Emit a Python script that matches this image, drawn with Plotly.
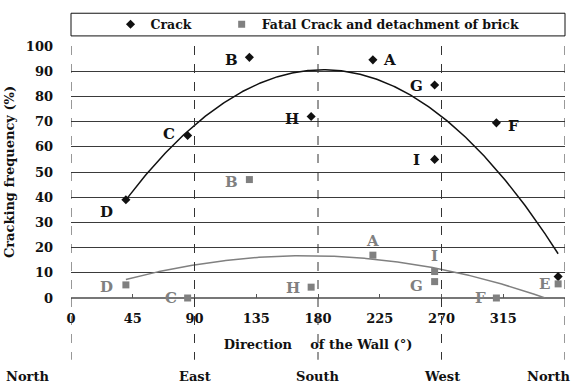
import numpy as np
import plotly.graph_objects as go

# ---- data ----
crack_labels = ["D", "C", "B", "H", "A", "G", "I", "F", "E"]
crack_dir = [40, 85, 130, 175, 220, 265, 265, 310, 355]
crack_freq = [39, 64.5, 95.5, 72, 94.5, 84.5, 55, 69.5, 8.5]

fatal_labels = ["D", "C", "B", "H", "A", "I", "G", "F", "E"]
fatal_dir = [40, 85, 130, 175, 220, 265, 265, 310, 355]
fatal_freq = [5.2, 0, 47, 4.3, 17, 10.5, 6.5, 0, 5.6]

x_ticks = [0, 45, 90, 135, 180, 225, 270, 315, 360]
compass_dir = [0, 90, 180, 270, 360]
compass_names = ["North", "East", "South", "West", "North"]

FONT = "DejaVu Serif, serif"
BLACK = "#111111"
GRAY = "#808080"

fig = go.Figure()

# trend lines (2nd order polynomial fits)
xs = np.linspace(min(crack_dir), max(crack_dir), 300)
c1 = np.polyfit(crack_dir, crack_freq, 2)
y1 = np.polyval(c1, xs)
c2 = np.polyfit(fatal_dir, fatal_freq, 2)
y2 = np.polyval(c2, xs)
m2 = y2 >= 0

fig.add_trace(go.Scatter(x=xs, y=y1, mode="lines", line=dict(color=BLACK, width=1.5),
                         showlegend=False, hoverinfo="skip"))
fig.add_trace(go.Scatter(x=xs[m2], y=y2[m2], mode="lines", line=dict(color=GRAY, width=1.5),
                         showlegend=False, hoverinfo="skip"))

fig.add_trace(go.Scatter(x=crack_dir, y=crack_freq, mode="markers", name="Crack",
                         marker=dict(symbol="diamond", size=7, color=BLACK), cliponaxis=False,
                         legend="legend"))
fig.add_trace(go.Scatter(x=fatal_dir, y=fatal_freq, mode="markers",
                         name="Fatal Crack and detachment of brick",
                         marker=dict(symbol="square", size=7, color=GRAY), cliponaxis=False,
                         legend="legend2"))

# point labels: (xshift, yshift) relative to each point
crack_off = {"D": (-19, -12), "C": (-19, 1), "B": (-18, -3), "H": (-19, -2),
             "A": (17, 0), "G": (-18, -1), "I": (-18, -1), "F": (17, -3)}
fatal_off = {"D": (-19, -2), "C": (-17, 0), "B": (-18, -2), "H": (-18, -1),
             "A": (0, 14), "I": (0, 16), "G": (-18, -4), "F": (-16, 0), "E": (-14, 0)}

for lab, x, y in zip(crack_labels, crack_dir, crack_freq):
    if lab in crack_off:
        dx, dy = crack_off[lab]
        fig.add_annotation(x=x, y=y, text=lab, showarrow=False, xshift=dx, yshift=dy,
                           font=dict(family=FONT, size=15, color=BLACK, weight="bold"))
for lab, x, y in zip(fatal_labels, fatal_dir, fatal_freq):
    dx, dy = fatal_off[lab]
    fig.add_annotation(x=x, y=y, text=lab, showarrow=False, xshift=dx, yshift=dy,
                       font=dict(family=FONT, size=15, color=GRAY, weight="bold"))

# compass dividers (dashed) and names
for d in compass_dir:
    fig.add_shape(type="line", xref="x", yref="paper", x0=d, x1=d, y0=1, y1=-0.245,
                  line=dict(color="#333333", width=1, dash="dash"))
name_shift = [-44, 0, 0, 0, -17]
for d, n, s in zip(compass_dir, compass_names, name_shift):
    fig.add_annotation(x=d, y=-0.31, xref="x", yref="paper", text=n, showarrow=False,
                       xshift=s, yanchor="middle",
                       font=dict(family=FONT, size=13, color=BLACK, weight="bold"))

# legend box
fig.add_shape(type="rect", xref="paper", yref="paper", x0=0, x1=1, y0=1.04, y1=1.13,
              line=dict(color=BLACK, width=1), fillcolor="white")

leg_common = dict(orientation="h", xanchor="left", y=1.085, yanchor="middle",
                  bgcolor="rgba(0,0,0,0)", font=dict(family=FONT, size=12.5, weight="bold"),
                  itemwidth=30)

fig.update_layout(
    width=575, height=386,
    margin=dict(l=71, r=10, t=41, b=88),
    paper_bgcolor="white", plot_bgcolor="white",
    font=dict(family=FONT, size=13, color=BLACK),
    legend=dict(x=0.08, **leg_common),
    legend2=dict(x=0.305, **leg_common),
    xaxis=dict(range=[0, 360], tickvals=x_ticks, ticks="inside", ticklen=4, tickcolor="#555",
               showgrid=False, zeroline=False, showline=False, ticklabelstandoff=11,
               tickfont=dict(family=FONT, size=13, weight="bold"),
               title=dict(text="Direction&nbsp;&nbsp;&nbsp;&nbsp;of the Wall (°)",
                          font=dict(family=FONT, size=13, weight="bold"), standoff=14)),
    yaxis=dict(range=[0, 100], dtick=10, showgrid=True, gridcolor="#3a3a3a", gridwidth=1,
               zeroline=True, zerolinecolor="#777", zerolinewidth=1.5, showline=False,
               ticks="", ticklabelstandoff=17,
               tickfont=dict(family=FONT, size=13, weight="bold"),
               title=dict(text="Cracking frequency (%)",
                          font=dict(family=FONT, size=13, weight="bold"), standoff=8)),
)

fig.write_html("out.html")
